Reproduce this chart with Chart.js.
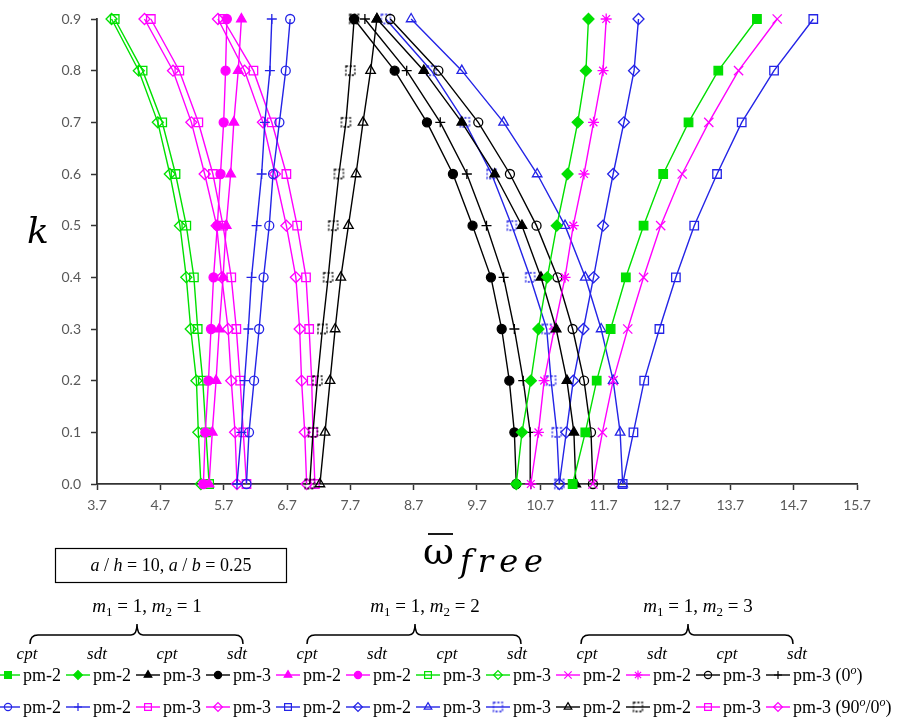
<!DOCTYPE html>
<html>
<head>
<meta charset="utf-8">
<script src="https://cdn.jsdelivr.net/npm/chart.js@4.4.1/dist/chart.umd.min.js"></script>
<style>
  html, body { margin: 0; padding: 0; background: #fff; }
  #wrap { width: 899px; height: 717px; }
</style>
</head>
<body>
<div id="wrap"><canvas id="chart" width="899" height="717"></canvas></div>
<script>
/* ---- data (k on the y axis, frequency on the x axis) ---- */
const kValues = [0.0, 0.1, 0.2, 0.3, 0.4, 0.5, 0.6, 0.7, 0.8, 0.9];
const xTicks  = [3.7, 4.7, 5.7, 6.7, 7.7, 8.7, 9.7, 10.7, 11.7, 12.7, 13.7, 14.7, 15.7];
const yTicks  = [0.0, 0.1, 0.2, 0.3, 0.4, 0.5, 0.6, 0.7, 0.8, 0.9];

// (0°) layup
const sqGreenPm2Cpt11   = [11.21, 11.41, 11.59, 11.81, 12.05, 12.33, 12.64, 13.04, 13.51, 14.12];
const dmGreenPm2Sdt11   = [10.32, 10.41, 10.55, 10.67, 10.81, 10.96, 11.13, 11.29, 11.42, 11.46];
const triBlackPm3Cpt11  = [11.26, 11.23, 11.12, 10.95, 10.71, 10.41, 9.98, 9.46, 8.86, 8.12];
const cirBlackPm3Sdt11  = [10.32, 10.29, 10.21, 10.09, 9.92, 9.63, 9.32, 8.91, 8.40, 7.76];
const triMagPm2Cpt12    = [5.47, 5.52, 5.58, 5.63, 5.69, 5.74, 5.81, 5.86, 5.93, 5.98];
const cirMagPm2Sdt12    = [5.38, 5.41, 5.46, 5.50, 5.54, 5.60, 5.65, 5.70, 5.73, 5.75];
const osqGreenPm3Cpt12  = [5.47, 5.42, 5.37, 5.29, 5.23, 5.11, 4.94, 4.73, 4.42, 3.98];
const odmGreenPm3Sdt12  = [5.34, 5.30, 5.27, 5.18, 5.11, 5.01, 4.85, 4.66, 4.36, 3.93];
const xMagPm2Cpt13      = [11.53, 11.68, 11.85, 12.08, 12.33, 12.60, 12.94, 13.36, 13.83, 14.44];
const starMagPm2Sdt13   = [10.55, 10.67, 10.76, 10.92, 11.09, 11.22, 11.39, 11.54, 11.69, 11.74];
const ocirBlackPm3Cpt13 = [11.53, 11.50, 11.39, 11.21, 10.97, 10.64, 10.22, 9.72, 9.09, 8.33];
const plusBlackPm3Sdt13 = [10.55, 10.54, 10.43, 10.29, 10.12, 9.85, 9.54, 9.12, 8.59, 7.93];

// (90°/0°) layup
const ocirBluePm2Cpt11  = [6.06, 6.10, 6.18, 6.26, 6.33, 6.42, 6.48, 6.58, 6.68, 6.75];
const plusBluePm2Sdt11  = [5.91, 5.98, 6.03, 6.09, 6.14, 6.22, 6.30, 6.35, 6.43, 6.46];
const osqMagPm3Cpt11    = [6.06, 6.01, 5.96, 5.90, 5.82, 5.69, 5.53, 5.30, 5.00, 4.55];
const odmMagPm3Sdt11    = [5.91, 5.88, 5.82, 5.77, 5.67, 5.59, 5.40, 5.19, 4.90, 4.45];
const osqBluePm2Cpt12   = [12.00, 12.17, 12.34, 12.58, 12.84, 13.13, 13.49, 13.88, 14.39, 15.01];
const odmBluePm2Sdt12   = [11.00, 11.11, 11.22, 11.38, 11.54, 11.69, 11.85, 12.02, 12.18, 12.25];
const otriBluePm3Cpt12  = [12.00, 11.96, 11.85, 11.66, 11.41, 11.09, 10.65, 10.12, 9.46, 8.66];
const dsqBluePm3Sdt12   = [11.00, 10.96, 10.87, 10.80, 10.54, 10.25, 9.93, 9.51, 8.98, 8.26];
const otriBlackPm2Cpt13 = [7.22, 7.30, 7.38, 7.46, 7.55, 7.67, 7.79, 7.90, 8.02, 8.12];
const dsqBlackPm2Sdt13  = [7.06, 7.11, 7.18, 7.26, 7.35, 7.43, 7.52, 7.63, 7.70, 7.76];
const osqMagPm3Cpt13    = [7.14, 7.11, 7.09, 7.05, 7.00, 6.86, 6.69, 6.46, 6.17, 5.69];
const odmMagPm3Sdt13    = [7.01, 6.98, 6.93, 6.90, 6.84, 6.69, 6.51, 6.32, 6.03, 5.61];

const theoryLabels = ['cpt', 'sdt', 'cpt', 'sdt', 'cpt', 'sdt', 'cpt', 'sdt', 'cpt', 'sdt', 'cpt', 'sdt'];
const modeGroups   = ['1', '2', '3'];   // m2 for each bracket (m1 = 1)

/* ---- styles ---- */
const GREEN = '#00e000', MAG = '#ff00ff', BLUE = '#2424e6', BLACK = '#000000';
const SERIF = '"Liberation Serif", "DejaVu Serif", serif';

function dashedSquare(color) {
  const c = document.createElement('canvas');
  c.width = 13; c.height = 13;
  const g = c.getContext('2d');
  g.strokeStyle = color;
  g.lineWidth = 1.3;
  g.setLineDash([2.2, 1.6]);
  g.strokeRect(2, 2, 9, 9);
  return c;
}

const RAD = { circle: 4.5, rect: 6, rectRot: 5.5, triangle: 5.5, cross: 5, crossRot: 6.5, star: 5.5 };

// one entry per series, in legend order (row 1 then row 2)
const series = [
  { data: sqGreenPm2Cpt11,   label: 'pm-2', color: GREEN, shape: 'rect',     filled: true },
  { data: dmGreenPm2Sdt11,   label: 'pm-2', color: GREEN, shape: 'rectRot',  filled: true },
  { data: triBlackPm3Cpt11,  label: 'pm-3', color: BLACK, shape: 'triangle', filled: true },
  { data: cirBlackPm3Sdt11,  label: 'pm-3', color: BLACK, shape: 'circle',   filled: true },
  { data: triMagPm2Cpt12,    label: 'pm-2', color: MAG,   shape: 'triangle', filled: true },
  { data: cirMagPm2Sdt12,    label: 'pm-2', color: MAG,   shape: 'circle',   filled: true },
  { data: osqGreenPm3Cpt12,  label: 'pm-3', color: GREEN, shape: 'rect' },
  { data: odmGreenPm3Sdt12,  label: 'pm-3', color: GREEN, shape: 'rectRot' },
  { data: xMagPm2Cpt13,      label: 'pm-2', color: MAG,   shape: 'crossRot' },
  { data: starMagPm2Sdt13,   label: 'pm-2', color: MAG,   shape: 'star' },
  { data: ocirBlackPm3Cpt13, label: 'pm-3', color: BLACK, shape: 'circle' },
  { data: plusBlackPm3Sdt13, label: 'pm-3', color: BLACK, shape: 'cross', tag: '(0', tagEnd: ')' },
  { data: ocirBluePm2Cpt11,  label: 'pm-2', color: BLUE,  shape: 'circle' },
  { data: plusBluePm2Sdt11,  label: 'pm-2', color: BLUE,  shape: 'cross' },
  { data: osqMagPm3Cpt11,    label: 'pm-3', color: MAG,   shape: 'rect' },
  { data: odmMagPm3Sdt11,    label: 'pm-3', color: MAG,   shape: 'rectRot' },
  { data: osqBluePm2Cpt12,   label: 'pm-2', color: BLUE,  shape: 'rect' },
  { data: odmBluePm2Sdt12,   label: 'pm-2', color: BLUE,  shape: 'rectRot' },
  { data: otriBluePm3Cpt12,  label: 'pm-3', color: BLUE,  shape: 'triangle' },
  { data: dsqBluePm3Sdt12,   label: 'pm-3', color: BLUE,  shape: 'dashed' },
  { data: otriBlackPm2Cpt13, label: 'pm-2', color: BLACK, shape: 'triangle' },
  { data: dsqBlackPm2Sdt13,  label: 'pm-2', color: BLACK, shape: 'dashed' },
  { data: osqMagPm3Cpt13,    label: 'pm-3', color: MAG,   shape: 'rect' },
  { data: odmMagPm3Sdt13,    label: 'pm-3', color: MAG,   shape: 'rectRot', tag: '(90', tagMid: '/0', tagEnd: ')' }
];

series.forEach(s => {
  s.pointStyle = s.shape === 'dashed' ? dashedSquare(s.color) : s.shape;
  s.radius = RAD[s.shape] || 6;
});

const datasets = series.map(s => ({
  label: s.label,
  data: kValues.map((k, i) => ({ x: s.data[i], y: k })),
  showLine: true,
  borderColor: s.color,
  borderWidth: 1.4,
  backgroundColor: s.color,
  pointStyle: s.pointStyle,
  pointRadius: s.radius,
  pointBorderWidth: 1.3,
  pointBorderColor: s.color,
  pointBackgroundColor: s.filled ? s.color : 'rgba(255,255,255,0)',
  tension: 0,
  clip: false
}));

/* ---- text helpers ---- */
// parts: [text, kind] with kind '' | 'i' (italic) | 'sub' | 'supi'
function partFont(kind, size) {
  if (kind === 'i') return `italic ${size}px ${SERIF}`;
  if (kind === 'sub') return `${Math.round(size * 0.68)}px ${SERIF}`;
  if (kind === 'supi') return `italic ${Math.round(size * 0.68)}px ${SERIF}`;
  return `${size}px ${SERIF}`;
}
function richWidth(ctx, parts, size) {
  let w = 0;
  parts.forEach(([t, k]) => { ctx.font = partFont(k, size); w += ctx.measureText(t).width; });
  return w;
}
function drawRich(ctx, parts, x, y, size, align) {
  let cx = x;
  if (align === 'center') cx = x - richWidth(ctx, parts, size) / 2;
  ctx.textBaseline = 'alphabetic';
  ctx.textAlign = 'left';
  parts.forEach(([t, k]) => {
    ctx.font = partFont(k, size);
    let dy = 0;
    if (k === 'sub') dy = size * 0.22;
    if (k === 'supi') dy = -size * 0.38;
    ctx.fillText(t, cx, y + dy);
    cx += ctx.measureText(t).width;
  });
  return cx;
}

/* ---- titles, note box and grouped legend ---- */
const decorations = {
  id: 'decorations',
  afterDraw(chart) {
    const ctx = chart.ctx;
    ctx.save();
    ctx.fillStyle = '#000';
    ctx.strokeStyle = '#000';

    // y title
    ctx.font = `italic 36px "DejaVu Serif", serif`;
    ctx.textAlign = 'center';
    ctx.textBaseline = 'middle';
    ctx.fillText('k', 38, 234);

    // x title: omega with bar, subscript free
    ctx.textAlign = 'left';
    ctx.textBaseline = 'alphabetic';
    ctx.font = `38px "DejaVu Serif", serif`;
    ctx.fillText('ω', 423, 564);
    ctx.lineWidth = 1.8;
    ctx.beginPath(); ctx.moveTo(428, 534); ctx.lineTo(453, 534); ctx.stroke();
    ctx.font = `italic 32px "DejaVu Serif", serif`;
    let fx = 460;
    for (const ch of 'free') {
      ctx.fillText(ch, fx, 572);
      fx += ctx.measureText(ch).width + 6;
    }

    // note box
    ctx.lineWidth = 1.2;
    ctx.strokeRect(55.5, 548.5, 231, 34);
    drawRich(ctx, [['a', 'i'], [' / ', ''], ['h', 'i'], [' = 10, ', ''], ['a', 'i'], [' / ', ''], ['b', 'i'], [' = 0.25', '']], 171, 571, 18, 'center');

    // brackets with mode labels
    const braces = [[30, 137, 243], [307, 415, 521], [581, 688, 793]];
    ctx.lineWidth = 1.5;
    braces.forEach(([x1, tip, x2], g) => {
      const yb = 635;
      ctx.beginPath();
      ctx.moveTo(x1, yb + 9);
      ctx.quadraticCurveTo(x1, yb, x1 + 8, yb);
      ctx.lineTo(tip - 6, yb);
      ctx.quadraticCurveTo(tip, yb, tip, yb - 11);
      ctx.quadraticCurveTo(tip, yb, tip + 6, yb);
      ctx.lineTo(x2 - 8, yb);
      ctx.quadraticCurveTo(x2, yb, x2, yb + 9);
      ctx.stroke();
      drawRich(ctx, [['m', 'i'], ['1', 'sub'], [' = 1, ', ''], ['m', 'i'], ['2', 'sub'], [' = ' + modeGroups[g], '']], tip + 10, 612, 19, 'center');
    });

    // legend rows
    const rowY = [675, 707];
    series.forEach((s, i) => {
      const row = Math.floor(i / 12), col = i % 12;
      const mx = 8 + 70 * col, my = rowY[row];
      ctx.strokeStyle = s.color;
      ctx.lineWidth = 1.4;
      ctx.beginPath(); ctx.moveTo(Math.max(0, mx - 12), my); ctx.lineTo(mx + 12, my); ctx.stroke();
      ctx.fillStyle = s.filled ? s.color : 'rgba(255,255,255,0)';
      ctx.lineWidth = 1.2;
      Chart.helpers.drawPoint(ctx, { pointStyle: s.pointStyle, rotation: 0, radius: s.radius * 0.8, borderWidth: 1.2 }, mx, my);
      ctx.fillStyle = '#000';
      const tx = drawRich(ctx, [[s.label, '']], mx + 15, my + 6, 18);
      if (s.tag) {
        const parts = [[' ' + s.tag, ''], ['o', 'supi']];
        if (s.tagMid) parts.push([s.tagMid, ''], ['o', 'supi']);
        parts.push([s.tagEnd, '']);
        drawRich(ctx, parts, tx, my + 6, 18);
      }
      if (row === 0) {
        ctx.font = `italic 17px ${SERIF}`;
        ctx.textAlign = 'center';
        ctx.fillText(theoryLabels[col], mx + 19, 659);
      }
    });
    ctx.restore();
  }
};

/* ---- chart ---- */
new Chart(document.getElementById('chart'), {
  type: 'scatter',
  data: { datasets },
  options: {
    responsive: false,
    animation: false,
    layout: { padding: { left: 0, right: 42, top: 19, bottom: 0 } },
    plugins: { legend: { display: false }, tooltip: { enabled: false } },
    scales: {
      x: {
        type: 'linear', min: 3.7, max: 15.7,
        afterBuildTicks: s => { s.ticks = xTicks.map(v => ({ value: v })); },
        afterFit: s => { s.height = 233; },
        ticks: { callback: v => Number(v).toFixed(1), color: '#595959', font: { family: 'Lato', size: 14 }, padding: 7, maxRotation: 0 },
        grid: { drawOnChartArea: false, drawTicks: true, tickLength: 6, tickColor: '#333', tickWidth: 1.5 },
        border: { display: true, color: '#333', width: 1.8 }
      },
      y: {
        type: 'linear', min: 0, max: 0.9,
        afterBuildTicks: s => { s.ticks = yTicks.map(v => ({ value: v })); },
        afterFit: s => { s.width = 97; },
        ticks: { callback: v => Number(v).toFixed(1), color: '#595959', font: { family: 'Lato', size: 14 }, padding: 10 },
        grid: { drawOnChartArea: false, drawTicks: true, tickLength: 6, tickColor: '#333', tickWidth: 1.5 },
        border: { display: true, color: '#333', width: 1.8 }
      }
    }
  },
  plugins: [decorations]
});
</script>
</body>
</html>
